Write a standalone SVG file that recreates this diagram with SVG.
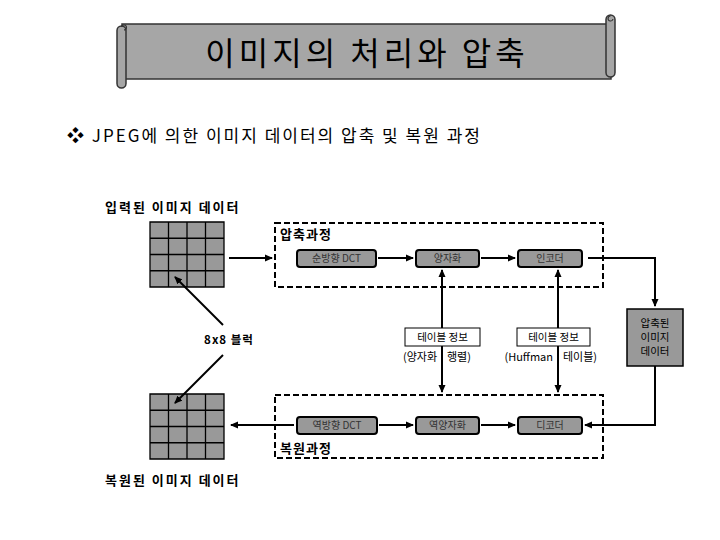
<svg xmlns="http://www.w3.org/2000/svg" width="720" height="540" viewBox="0 0 720 540">
<style>
.t{font-family:"Noto Sans CJK KR","Noto Sans",sans-serif;fill:#000}
.b{font-weight:bold}
.pbox{fill:#999;stroke:#000;stroke-width:2}
.pt{font-family:"Noto Sans CJK KR","Liberation Sans",sans-serif;font-size:10px;fill:#333;text-anchor:middle}
.ln{stroke:#000;stroke-width:2;fill:none}
.dash{fill:none;stroke:#000;stroke-width:2;stroke-dasharray:6,3}
.wbox{fill:#fff;stroke:#000;stroke-width:1}
.lab{font-size:13px;letter-spacing:2px}
</style>
<defs>
<marker id="ah" markerWidth="8" markerHeight="8" refX="7" refY="4" orient="auto" markerUnits="userSpaceOnUse">
<path d="M0,0.5 L8,4 L0,7.5 Z" fill="#000"/>
</marker>
</defs>
<rect width="720" height="540" fill="#fff"/>
<g id="title">
<rect x="122" y="24" width="489" height="55" fill="#a6a6a6" stroke="#333" stroke-width="1.5"/>
<rect x="117" y="26" width="9" height="62" rx="4.5" fill="#a6a6a6" stroke="#333" stroke-width="1.5"/>
<path d="M121.5,27 a2.5,2.5 0 1 1 2.5,3" fill="none" stroke="#333" stroke-width="1.2"/>
<rect x="606" y="15" width="9" height="62" rx="4.5" fill="#a6a6a6" stroke="#333" stroke-width="1.5"/>
<path d="M610.5,16 a2.5,2.5 0 1 0 2.5,3" fill="none" stroke="#333" stroke-width="1.2"/>
<text class="t" x="367" y="65" font-size="32" letter-spacing="4" text-anchor="middle">이미지의 처리와 압축</text>
</g>
<g id="subtitle">
<text class="t" x="67" y="142" font-size="17" letter-spacing="2">❖ JPEG에 의한 이미지 데이터의 압축 및 복원 과정</text>
</g>
<g id="input-grid">
<text class="t b lab" x="105" y="212">입력된 이미지 데이터</text>
<rect x="150" y="222" width="74" height="65" fill="#999"/>
<path class="ln" style="stroke-width:1.3" d="M150,222H224V287H150Z M168.5,222V287 M187,222V287 M205.5,222V287 M150,238.25H224 M150,254.5H224 M150,270.75H224"/>
</g>
<g id="output-grid">
<rect x="150" y="394" width="74" height="65" fill="#999"/>
<path class="ln" style="stroke-width:1.3" d="M150,394H224V459H150Z M168.5,394V459 M187,394V459 M205.5,394V459 M150,410.25H224 M150,426.5H224 M150,442.75H224"/>
<text class="t b lab" x="105" y="485">복원된 이미지 데이터</text>
</g>
<g id="block-label">
<text class="t b" x="229" y="344" font-size="11.5" letter-spacing="1" text-anchor="middle">8x8 블럭</text>
</g>
<g id="compress-group">
<rect class="dash" x="275" y="223" width="328" height="64"/>
<text class="t b" x="280" y="239" font-size="13" letter-spacing="1">압축과정</text>
</g>
<g id="restore-group">
<rect class="dash" x="275" y="395" width="328" height="63"/>
<text class="t b" x="280" y="453" font-size="13" letter-spacing="1">복원과정</text>
</g>
<g id="fdct"><rect class="pbox" x="297" y="250" width="79" height="17" rx="3"/><text class="pt" x="336.5" y="262">순방향 DCT</text></g>
<g id="quant"><rect class="pbox" x="416" y="250" width="63" height="17" rx="3"/><text class="pt" x="447.5" y="262">양자화</text></g>
<g id="encoder"><rect class="pbox" x="518" y="250" width="64" height="17" rx="3"/><text class="pt" x="550" y="262">인코더</text></g>
<g id="idct"><rect class="pbox" x="297" y="417" width="80" height="17" rx="3"/><text class="pt" x="337" y="429">역방향 DCT</text></g>
<g id="dequant"><rect class="pbox" x="416" y="417" width="63" height="17" rx="3"/><text class="pt" x="447.5" y="429">역양자화</text></g>
<g id="decoder"><rect class="pbox" x="518" y="417" width="64" height="17" rx="3"/><text class="pt" x="550" y="429">디코더</text></g>
<g id="table1">
<rect class="wbox" x="405" y="328" width="75" height="18"/>
<text class="t" x="442.5" y="341" font-size="10.5" text-anchor="middle">테이블 정보</text>
</g>
<g id="table2">
<rect class="wbox" x="517" y="328" width="73" height="18"/>
<text class="t" x="553.5" y="341" font-size="10.5" text-anchor="middle">테이블 정보</text>
</g>
<g id="compressed">
<rect x="627" y="309" width="56" height="57" fill="#999" stroke="#000" stroke-width="1.5"/>
<text class="t" x="655" y="327" font-size="10.5" text-anchor="middle">압축된</text>
<text class="t" x="655" y="341" font-size="10.5" text-anchor="middle">이미지</text>
<text class="t" x="655" y="355" font-size="10.5" text-anchor="middle">데이터</text>
</g>
<g id="connectors">
<line class="ln" x1="229" y1="258" x2="272" y2="258" marker-end="url(#ah)"/>
<line class="ln" x1="378" y1="258" x2="413" y2="258" marker-end="url(#ah)"/>
<line class="ln" x1="481" y1="258" x2="515" y2="258" marker-end="url(#ah)"/>
<polyline class="ln" points="588,258 655,258 655,306" marker-end="url(#ah)"/>
<polyline class="ln" points="655,366 655,425 585,425" marker-end="url(#ah)"/>
<line class="ln" x1="379" y1="425" x2="413" y2="425" marker-end="url(#ah)"/>
<line class="ln" x1="481" y1="425" x2="515" y2="425" marker-end="url(#ah)"/>
<line class="ln" x1="294" y1="425" x2="231" y2="425" marker-end="url(#ah)"/>
<line class="ln" x1="442" y1="328" x2="442" y2="270" marker-end="url(#ah)"/>
<line class="ln" x1="558" y1="328" x2="558" y2="270" marker-end="url(#ah)"/>
<line class="ln" x1="442" y1="346" x2="442" y2="392" marker-end="url(#ah)"/>
<line class="ln" x1="558" y1="346" x2="558" y2="392" marker-end="url(#ah)"/>
<line class="ln" x1="223" y1="325" x2="175" y2="277" marker-end="url(#ah)"/>
<line class="ln" x1="223" y1="355" x2="175" y2="403" marker-end="url(#ah)"/>
</g>
<g id="table-labels">
<text class="t" x="437" y="361" font-size="11" text-anchor="end">(양자화</text>
<text class="t" x="447" y="361" font-size="11">행렬)</text>
<text class="t" x="553" y="361" font-size="11" text-anchor="end">(Huffman</text>
<text class="t" x="563" y="361" font-size="11">테이블)</text>
</g>
</svg>
